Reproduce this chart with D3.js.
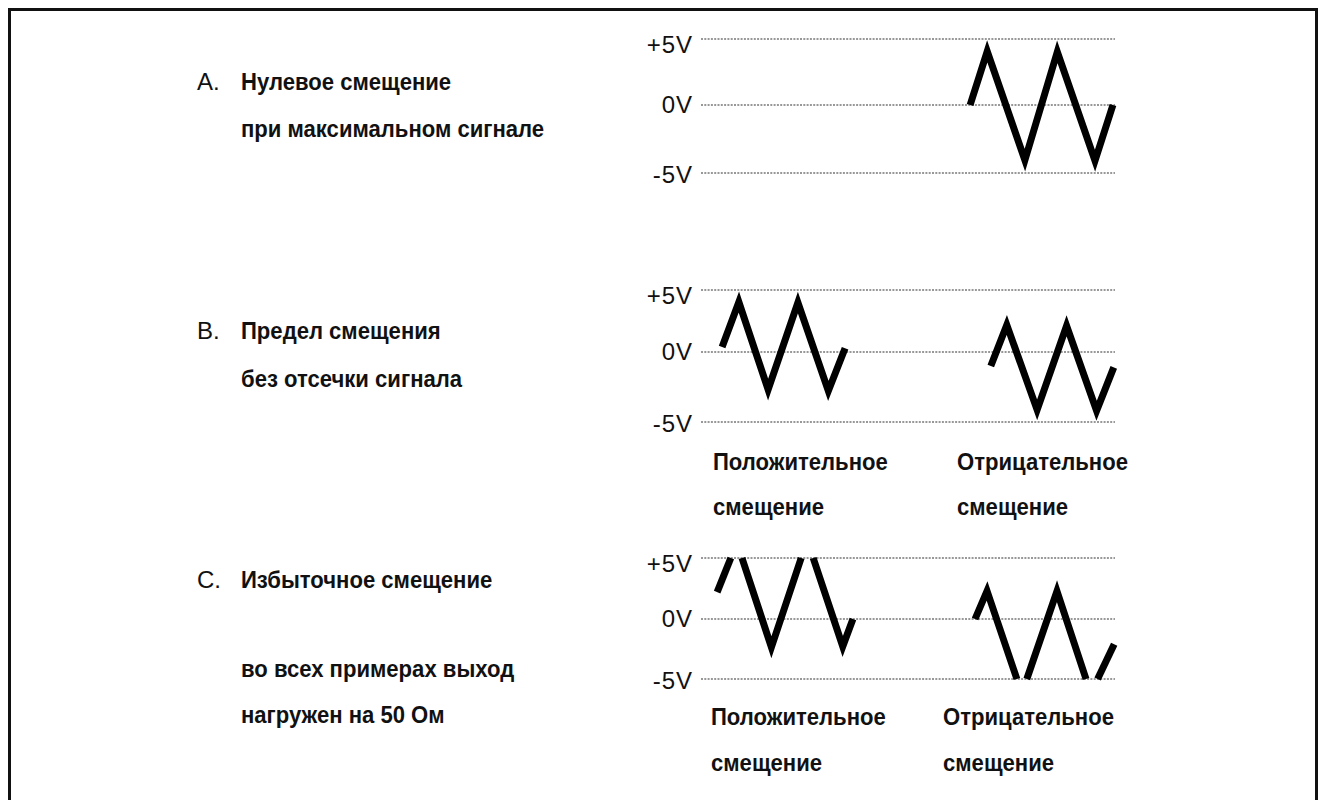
<!DOCTYPE html>
<html>
<head>
<meta charset="utf-8">
<script src="https://cdn.jsdelivr.net/npm/d3@7"></script>
<style>
  body { margin: 0; background: #fff; }
  text { font-family: "Liberation Sans", Arial, sans-serif; fill: #111; }
</style>
</head>
<body>
<svg id="fig" width="1327" height="800"></svg>
<script>
// levels of the dotted guides and their labels
var levels = [5, 0, -5];
var levelLabels = ["+5V", "0V", "-5V"];

// captions
var letters = ["A.", "B.", "C."];
var captionA = ["Нулевое смещение", "при максимальном сигнале"];
var captionB = ["Предел смещения", "без отсечки сигнала"];
var captionC = ["Избыточное смещение"];
var note = ["во всех примерах выход", "нагружен на 50 Ом"];
var subPos = ["Положительное", "смещение"];
var subNeg = ["Отрицательное", "смещение"];

// waveforms: time (0..100 across the guides) and volts, null = gap (clipped)
var waveA_t = [65.0, 69.1, 78.3, 86.0, 95.2, 99.5];
var waveA_v = [0, 5, -5, 5, -5, 0];

var waveBpos_t = [5.1, 9.2, 16.2, 23.4, 30.7, 34.8];
var waveBpos_v = [0.4, 5, -3.6, 5, -3.6, 0.3];
var waveBneg_t = [70.0, 73.9, 81.2, 88.3, 95.5, 99.7];
var waveBneg_v = [-1.0, 3.1, -5, 3.1, -5, -1.1];

var waveCpos_t = [3.9, 7.2, null, 9.9, 17.0, 24.2, null, 27.1, 34.3, 36.7];
var waveCpos_v = [2.2, 5, null, 5, -3.3, 5, null, 5, -3.3, 0];
var waveCneg_t = [66.2, 69.1, 76.3, null, 78.7, 86.0, 93.0, null, 95.8, 99.8];
var waveCneg_v = [0, 3.2, -5, null, -5, 3.2, -5, null, -5, -2.1];

var svg = d3.select("#fig");
var strokeW = 7;

svg.append("rect")
    .attr("x", 9.5).attr("y", 9.5)
    .attr("width", 1307).attr("height", 900)
    .attr("fill", "none").attr("stroke", "#111").attr("stroke-width", 3);

var x = d3.scaleLinear().domain([0, 100]).range([701, 1115]);

var panels = [
    { yr: [173, 105, 39], letterY: 90, caption: captionA, capY: [90, 137],
      waves: [[waveA_t, waveA_v]] },
    { yr: [422, 352, 290], letterY: 339, caption: captionB, capY: [339, 387],
      waves: [[waveBpos_t, waveBpos_v], [waveBneg_t, waveBneg_v]],
      subs: [[713, subPos], [957, subNeg]], subY: [470, 515] },
    { yr: [679, 619, 558], letterY: 588, caption: captionC, capY: [588],
      waves: [[waveCpos_t, waveCpos_v], [waveCneg_t, waveCneg_v]],
      subs: [[711, subPos], [943, subNeg]], subY: [725, 771] }
];

var labelShift = [14, 8, 10];

// move inner vertices so the miter tip (not the centre line) lands on the read value
function tipAdjust(pts, hw) {
    return pts.map(function(p, i) {
        if (i === 0 || i === pts.length - 1) return p;
        var a = pts[i - 1], b = pts[i + 1];
        var ux = a[0] - p[0], uy = a[1] - p[1], lu = Math.hypot(ux, uy);
        var vx = b[0] - p[0], vy = b[1] - p[1], lv = Math.hypot(vx, vy);
        ux /= lu; uy /= lu; vx /= lv; vy /= lv;
        var bx = ux + vx, by = uy + vy, lb = Math.hypot(bx, by);
        bx /= lb; by /= lb;
        var half = Math.acos(ux * vx + uy * vy) / 2;
        var d = hw / Math.sin(half) - hw * 0.3;
        return [p[0] + bx * d, p[1] + by * d];
    });
}

function runs(ts, vs) {
    var out = [], cur = [];
    ts.forEach(function(t, i) {
        if (t === null) { if (cur.length) out.push(cur); cur = []; }
        else cur.push([t, vs[i]]);
    });
    if (cur.length) out.push(cur);
    return out;
}

// the scan uses a narrow bold face: squeeze the text a little
function narrow(sel) {
    sel.each(function() {
        var w = this.getComputedTextLength();
        d3.select(this).attr("textLength", w * 0.92).attr("lengthAdjust", "spacingAndGlyphs");
    });
}

var line = d3.line();

panels.forEach(function(p, pi) {
    var y = d3.scaleLinear().domain([-5, 0, 5]).range(p.yr);
    var g = svg.append("g");

    g.selectAll(".guide").data(levels).enter().append("line")
        .attr("x1", x(0)).attr("x2", x(100))
        .attr("y1", function(d) { return y(d); })
        .attr("y2", function(d) { return y(d); })
        .attr("stroke", "#333").attr("stroke-width", 1.2)
        .attr("stroke-dasharray", "2,1.3");

    g.selectAll(".lvl").data(levels).enter().append("text")
        .attr("x", 693)
        .attr("y", function(d, i) { return y(d) + labelShift[i]; })
        .attr("text-anchor", "end")
        .attr("font-size", 24).attr("letter-spacing", 1)
        .text(function(d, i) { return levelLabels[i]; });

    p.waves.forEach(function(w) {
        runs(w[0], w[1]).forEach(function(r) {
            var pts = r.map(function(d) { return [x(d[0]), y(d[1])]; });
            g.append("path")
                .attr("d", line(tipAdjust(pts, strokeW / 2)))
                .attr("fill", "none").attr("stroke", "#000")
                .attr("stroke-width", strokeW)
                .attr("stroke-linejoin", "miter")
                .attr("stroke-miterlimit", 12);
        });
    });

    g.append("text").attr("x", 197).attr("y", p.letterY)
        .attr("font-size", 24).text(letters[pi]);

    g.selectAll(".cap").data(p.caption).enter().append("text")
        .attr("x", 241).attr("y", function(d, i) { return p.capY[i]; })
        .attr("font-size", 24).attr("font-weight", "bold")
        .text(function(d) { return d; })
        .call(narrow);

    (p.subs || []).forEach(function(s) {
        g.selectAll(null).data(s[1]).enter().append("text")
            .attr("x", s[0]).attr("y", function(d, i) { return p.subY[i]; })
            .attr("font-size", 24).attr("font-weight", "bold")
            .text(function(d) { return d; })
            .call(narrow);
    });
});

svg.selectAll(".note").data(note).enter().append("text")
    .attr("x", 241).attr("y", function(d, i) { return [677, 723][i]; })
    .attr("font-size", 24).attr("font-weight", "bold")
    .text(function(d) { return d; })
    .call(narrow);
</script>
</body>
</html>
